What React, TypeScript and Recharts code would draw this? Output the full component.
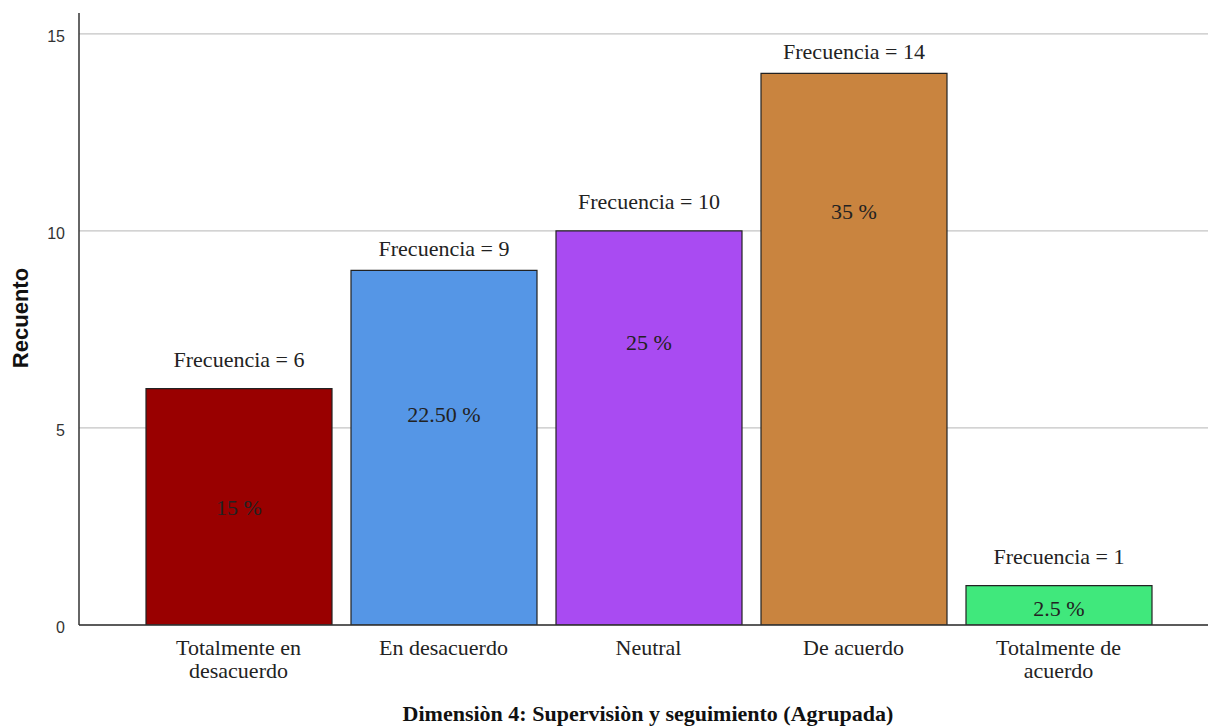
import { BarChart, Bar, XAxis, YAxis, CartesianGrid, Cell, LabelList, Label } from "recharts";

const categories = ["Totalmente en desacuerdo", "En desacuerdo", "Neutral", "De acuerdo", "Totalmente de acuerdo"];
const categoryLines = [["Totalmente en", "desacuerdo"], ["En desacuerdo"], ["Neutral"], ["De acuerdo"], ["Totalmente de", "acuerdo"]];
const counts = [6, 9, 10, 14, 1];
const percents = ["15 %", "22.50 %", "25 %", "35 %", "2.5 %"];
const yTicks = [0, 5, 10, 15];

const barColors = ["#990000", "#5596e6", "#a94bf2", "#c9843f", "#40e87c"];
// where SPSS drops the % label inside each bar (fraction of bar height from the base)
const pctFrac = [0.5, 0.595, 0.718, 0.75, 0.43];
// gap between bar top and the "Frecuencia" label
const freqGap = [27, 19, 27, 19, 27];

const serif = "'Liberation Serif', 'Times New Roman', serif";
const sans = "'Liberation Sans', Arial, sans-serif";

const data = categories.map((name, i) => ({ name, count: counts[i], pct: percents[i] }));

const CategoryTick = (props: any) => {
  const { x, y, index } = props;
  const lines = categoryLines[index] ?? [props.payload.value];
  return (
    <text x={x} y={y} textAnchor="middle" fontFamily={serif} fontSize={22} fill="#222">
      {lines.map((l: string, i: number) => (
        <tspan key={i} x={x} dy={i === 0 ? 22 : 23}>{l}</tspan>
      ))}
    </text>
  );
};

const FreqLabel = (props: any) => {
  const { x, y, width, value, index } = props;
  return (
    <text x={x + width / 2} y={y - (freqGap[index] ?? 23)} textAnchor="middle" dominantBaseline="middle" fontFamily={serif} fontSize={22} fill="#222">
      {`Frecuencia = ${value}`}
    </text>
  );
};

const PctLabel = (props: any) => {
  const { x, y, width, height, value, index } = props;
  const f = pctFrac[index] ?? 0.5;
  return (
    <text x={x + width / 2} y={y + height * (1 - f) + 3} textAnchor="middle" dominantBaseline="middle" fontFamily={serif} fontSize={22} fill="#222">
      {value}
    </text>
  );
};

export default function App() {
  return (
    <div>
      <style>{"body{margin:0}"}</style>
      <BarChart width={1208} height={727} data={data} margin={{ top: 13, right: 0, bottom: 0, left: 0 }}>
        <CartesianGrid vertical={false} horizontalValues={yTicks} stroke="#c4c4c4" strokeWidth={1.3} />
        <XAxis
          dataKey="name"
          height={102}
          padding={{ left: 57, right: 47 }}
          axisLine={{ stroke: "#333", strokeWidth: 1.5 }}
          tickLine={false}
          tick={<CategoryTick />}
          interval={0}
        >
          <Label
            content={(p: any) => {
              const vb = p.viewBox;
              return (
                <text x={648} y={vb.y + 91} textAnchor="middle" dominantBaseline="middle" fontFamily={serif} fontWeight="bold" fontSize={22} fill="#111">
                  Dimensiòn 4: Supervisiòn y seguimiento (Agrupada)
                </text>
              );
            }}
          />
        </XAxis>
        <YAxis
          width={79}
          domain={[0, 15.53]}
          ticks={yTicks}
          allowDataOverflow
          axisLine={{ stroke: "#333", strokeWidth: 1.5 }}
          tickLine={false}
          tickMargin={8}
          tick={{ fontFamily: sans, fontSize: 16, fill: "#333", dy: 2 }}
        >
          <Label
            content={() => (
              <text x={22} y={318} transform="rotate(-90 22 318)" textAnchor="middle" dominantBaseline="middle" fontFamily={sans} fontWeight="bold" fontSize={22} fill="#111">
                Recuento
              </text>
            )}
          />
        </YAxis>
        <Bar dataKey="count" barSize={186} stroke="#222" strokeWidth={1.2} isAnimationActive={false}>
          {data.map((d, i) => (
            <Cell key={d.name} fill={barColors[i]} />
          ))}
          <LabelList dataKey="count" content={<FreqLabel />} />
          <LabelList dataKey="pct" content={<PctLabel />} />
        </Bar>
      </BarChart>
    </div>
  );
}
